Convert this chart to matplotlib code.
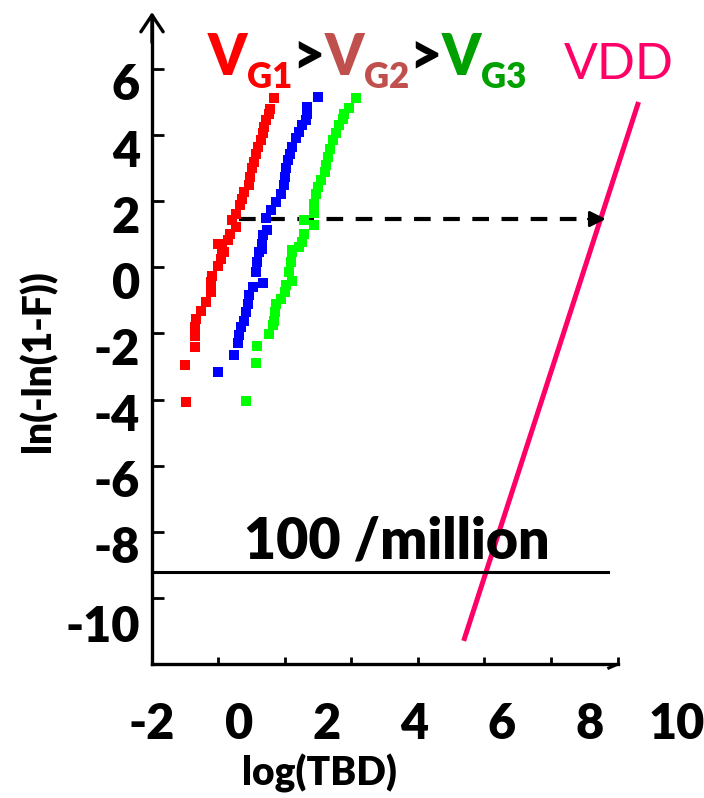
import numpy as np
import matplotlib.pyplot as plt
from matplotlib.transforms import ScaledTranslation

plt.rcParams['font.family'] = ['Lato', 'DejaVu Sans']
plt.rcParams['axes.unicode_minus'] = False

# Weibull plot points: log(TBD) vs ln(-ln(1-F))
red_x = [0.78, 0.70, 0.67, 0.60, 0.56, 0.54, 0.49, 0.42, 0.39, 0.33, 0.28, 0.24, 0.22, 0.10, 0.05, 0.01,
         -0.07, -0.17, -0.08, -0.22, -0.27, -0.50, -0.39, -0.36, -0.43, -0.50, -0.62, -0.65, -0.65, -0.77,
         -0.88, -1.00, -1.01, -1.01, -1.01, -1.24, -1.23]
red_y = [5.13, 4.80, 4.65, 4.46, 4.25, 4.05, 3.86, 3.64, 3.44, 3.19, 2.99, 2.74, 2.50, 2.28, 2.07, 1.89,
         1.62, 1.44, 1.23, 1.02, 0.83, 0.72, 0.54, 0.46, 0.26, 0.05, -0.25, -0.44, -0.74, -1.04,
         -1.31, -1.56, -1.80, -2.07, -2.40, -2.95, -4.07]

blue_x = [1.79, 1.54, 1.54, 1.52, 1.44, 1.37, 1.29, 1.21, 1.15, 1.10, 1.06, 1.05, 1.02, 0.95, 0.83, 0.72,
          0.60, 0.64, 0.54, 0.51, 0.51, 0.44, 0.41, 0.38, 0.54, 0.31, 0.22, 0.19, 0.16, 0.11, 0.03, -0.02,
          -0.04, -0.12, -0.48]
blue_y = [5.16, 4.85, 4.65, 4.46, 4.31, 4.10, 3.90, 3.64, 3.44, 3.25, 2.99, 2.74, 2.50, 2.23, 1.98, 1.74,
          1.48, 1.13, 0.97, 0.72, 0.54, 0.46, 0.16, -0.15, -0.48, -0.60, -0.85, -1.10, -1.36, -1.61, -1.81,
          -2.04, -2.28, -2.65, -3.17]

green_x = [2.66, 2.51, 2.40, 2.36, 2.28, 2.21, 2.13, 2.07, 2.02, 1.98, 1.96, 1.86, 1.79, 1.75, 1.71, 1.71,
           1.48, 1.71, 1.48, 1.44, 1.37, 1.21, 1.21, 1.18, 1.14, 1.21, 1.06, 1.05, 0.95, 0.83, 0.82, 0.79,
           0.77, 0.67, 0.41, 0.38, 0.16]
green_y = [5.13, 4.82, 4.65, 4.50, 4.30, 4.05, 3.85, 3.59, 3.34, 3.09, 2.89, 2.64, 2.43, 2.23, 1.93, 1.63,
           1.43, 1.28, 1.02, 0.77, 0.62, 0.52, 0.46, 0.16, -0.15, -0.40, -0.55, -0.75, -0.95, -1.10, -1.36,
           -1.61, -1.76, -2.01, -2.37, -2.89, -4.03]

# extrapolated line at operating voltage
vdd_x = [5.13, 9.13]
vdd_y = [-11.30, 5.00]

# 100 per million failure level
limit_y = np.log(1e-4)
limit_x = [-2, 8.43]

# projection arrow
proj_y = 1.46
proj_x = [0.0, 8.38]

x_labels = [-2, 0, 2, 4, 6, 8, 10]
x_marks = [-0.49, 1.04, 2.55, 4.09, 5.60, 7.13, 8.66]
y_ticks = [-10, -8, -6, -4, -2, 0, 2, 4, 6]

heavy = 'heavy'

fig = plt.figure(figsize=(7.04, 7.98), dpi=100)
ax = fig.add_axes([0.1973, 0.1679, 0.7979, 0.8244])
ax.set_xlim(-2.3, 10.55)
ax.set_ylim(-12, 7.9)

for s in ['top', 'right']:
    ax.spines[s].set_visible(False)
ax.spines['left'].set_position(('data', -2))
ax.spines['left'].set_bounds(-12, 7.6)
ax.spines['bottom'].set_bounds(-2, 8.66)
ax.spines['left'].set_linewidth(2.4)
ax.spines['bottom'].set_linewidth(2.4)

# open arrow head on top of y axis
ax.annotate('', xy=(-2, 7.72), xytext=(-2, 6.8),
            arrowprops=dict(arrowstyle='->,head_length=0.6,head_width=0.4', lw=2.4, color='black',
                            mutation_scale=20, shrinkA=0, shrinkB=0),
            annotation_clip=False)
# little hook at the end of the x axis
ax.plot([8.66, 8.45], [-12, -12.12], color='black', lw=2.2, clip_on=False)

ax.set_xticks(x_labels)
ax.set_xticklabels([str(v) for v in x_labels])
ax.set_xticks(x_marks, minor=True)
ax.tick_params(axis='x', which='major', length=0, pad=27, labelsize=35)
ax.tick_params(axis='x', which='minor', direction='in', length=5, width=2)
ax.set_yticks(y_ticks)
ax.set_yticklabels([str(v) for v in y_ticks])
ax.tick_params(axis='y', direction='in', length=8.5, width=2, pad=8.6, labelsize=35)
for lab in ax.get_xticklabels() + ax.get_yticklabels():
    lab.set_fontweight(heavy)
shift = ScaledTranslation(0, -0.13, fig.dpi_scale_trans)
for lab in ax.get_yticklabels():
    lab.set_transform(lab.get_transform() + shift)
    if lab.get_text() == '-10':
        lab.set_transform(lab.get_transform() + shift)

ax.scatter(red_x, red_y, marker='s', s=42, color='#FF0000', linewidths=0, zorder=3)
ax.scatter(blue_x, blue_y, marker='s', s=42, color='#0000FF', linewidths=0, zorder=3)
ax.scatter(green_x, green_y, marker='s', s=42, color='#00FF00', linewidths=0, zorder=3)

ax.plot(vdd_x, vdd_y, color='#FF0066', lw=3.6, solid_capstyle='butt')
ax.plot(limit_x, [limit_y, limit_y], color='black', lw=2.2)
ax.plot([proj_x[0], proj_x[1] - 0.3], [proj_y, proj_y], color='black', lw=3, dashes=(4, 3))
ax.annotate('', xy=(proj_x[1], proj_y), xytext=(proj_x[1] - 0.4, proj_y),
            arrowprops=dict(arrowstyle='-|>', color='black', lw=2, mutation_scale=24,
                            shrinkA=0, shrinkB=0))

ax.text(0.10, -8.82, '100 /million', fontsize=40, fontweight=heavy, va='baseline')
ax.text(7.42, 5.70, 'VDD', fontsize=36, color='#FF0066', va='baseline')

# V_G1 > V_G2 > V_G3 heading, pieces chained left to right
title_parts = [('V', '#FF0000', 40, 5.82), ('G1', '#FF0000', 25, 5.42), ('>', 'black', 40, 5.85),
               ('V', '#C0504D', 40, 5.82), ('G2', '#C0504D', 25, 5.42), ('>', 'black', 40, 5.85),
               ('V', '#00A000', 40, 5.82), ('G3', '#00A000', 25, 5.42)]
prev = None
for txt, col, size, base in title_parts:
    if prev is None:
        prev = ax.text(-0.72, base, txt, color=col, fontsize=size, fontweight=heavy, va='baseline')
    else:
        prev = ax.annotate(txt, xy=(1, base), xycoords=(prev, 'data'), color=col, fontsize=size,
                           fontweight=heavy, va='baseline', ha='left')

ax.set_xlabel('log(TBD)', fontsize=28, fontweight=heavy)
ax.xaxis.set_label_coords(0.322, -0.136)
ax.set_ylabel('ln(-ln(1-F))', fontsize=28, fontweight=heavy)
ax.yaxis.label.set_va('center')
ax.yaxis.set_label_coords(-0.180, 0.46)

fig.savefig('out.png', dpi=100)
